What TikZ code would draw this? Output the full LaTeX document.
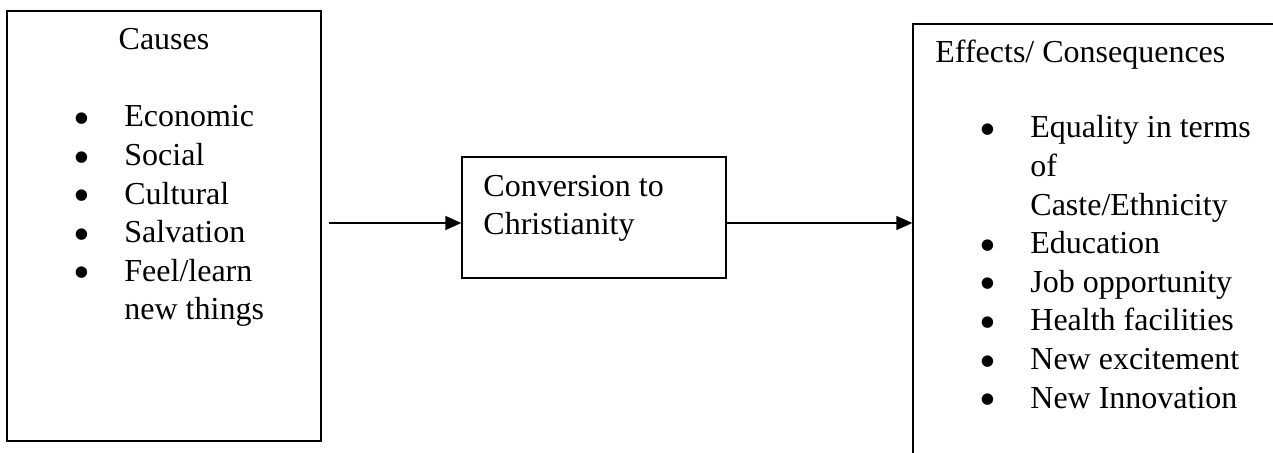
\documentclass[tikz,border=0pt]{standalone}
\usepackage{fontspec}
\setmainfont{Liberation Serif}
\usetikzlibrary{matrix,fit,arrows.meta}
\tikzset{
  box/.style={draw, line width=0.65pt, inner sep=0pt},
  label text/.style={font=\fontsize{16}{19}\selectfont, inner sep=0pt},
  item list/.style={matrix of nodes, column sep=17pt, row sep=0pt, inner sep=0pt,
    nodes={font=\fontsize{16}{19}\selectfont, inner sep=0pt, text height=13.55pt, text depth=5.75pt},
    column 1/.style={anchor=base}, column 2/.style={anchor=base west}},
  link/.style={line width=0.8pt, -{Triangle[length=8pt,width=7pt]}}
}
\newcommand{\bul}{\raisebox{-3.8pt}{\fontsize{24}{24}\selectfont\textbullet}}

\begin{document}
\begin{tikzpicture}[x=0.5pt,y=-0.5pt]
\useasboundingbox (0,0) rectangle (1273,453);
\clip (0,0) rectangle (1273,453);

\node (causebox) [box, fit={(7,11) (321,441)}] {};
\node (conv) [box, fit={(462,157) (726,278)}] {};
\node (effbox) [box, fit={(913,24) (1320,500)}] {};

\node (causetitle) [label text, anchor=base] at (164,50) {Causes};
\matrix (causes) [item list, matrix anchor=causes-1-2.base west] at (124,127) {
\bul & Economic \\
\bul & Social \\
\bul & Cultural \\
\bul & Salvation \\
\bul & Feel/learn \\
     & new things \\
};

\node (convtext) [label text, anchor=base west, align=left] at (483,235) {Conversion to\\Christianity};

\node (efftitle) [label text, anchor=base west] at (935,63) {Effects/ Consequences};
\matrix (effects) [item list, matrix anchor=effects-1-2.base west] at (1030,138) {
\bul & Equality in terms \\
     & of \\
     & Caste/Ethnicity \\
\bul & Education \\
\bul & Job opportunity \\
\bul & Health facilities \\
\bul & New excitement \\
\bul & New Innovation \\
};

% arrows
\coordinate (start) at (329,223);
\draw[link] (start) -- (start -| conv.west);
\draw[link] (conv.east |- start) -- (start -| effbox.west);
\end{tikzpicture}
\end{document}
